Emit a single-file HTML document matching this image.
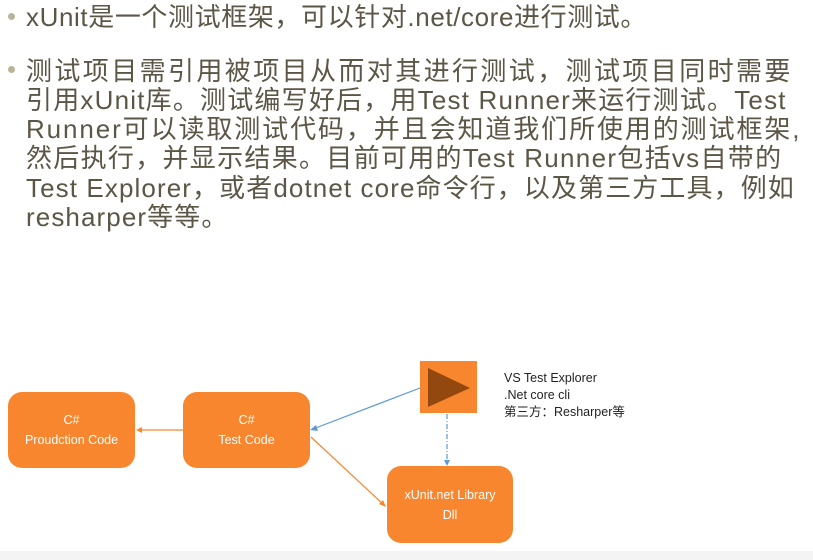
<!DOCTYPE html>
<html><head><meta charset="utf-8"><style>
body{margin:0;width:813px;height:560px;background:#fff;position:relative;overflow:hidden;font-family:"Liberation Sans","Noto Sans CJK SC",sans-serif}
.t{position:absolute;left:26px;white-space:nowrap;font-size:26px;color:#5c5646;line-height:29px}
.b{position:absolute;left:8px;width:7px;height:7px;border-radius:50%;background:#b9b39a}
.box{position:absolute;background:#f7862e;border-radius:14px;color:#fff;font-size:12.5px;text-align:center;display:flex;flex-direction:column;justify-content:center;line-height:20px}
.lab{position:absolute;left:504px;font-size:12.5px;color:#222;line-height:17px;font-family:"Liberation Sans","Noto Sans CJK SC",sans-serif}
</style></head><body>
<div class="b" style="top:13px"></div>
<div class="t" style="top:3px;letter-spacing:0.6px">xUnit是一个测试框架，可以针对.net/core进行测试。</div>
<div class="b" style="top:66px"></div>
<div class="t" style="top:57px;letter-spacing:2.4px">测试项目需引用被项目从而对其进行测试，测试项目同时需要</div>
<div class="t" style="top:86px;letter-spacing:1.2px">引用xUnit库。测试编写好后，用Test Runner来运行测试。Test</div>
<div class="t" style="top:115px;letter-spacing:1.9px">Runner可以读取测试代码，并且会知道我们所使用的测试框架,</div>
<div class="t" style="top:144px;letter-spacing:1.3px">然后执行，并显示结果。目前可用的Test Runner包括vs自带的</div>
<div class="t" style="top:174px;letter-spacing:1.1px">Test Explorer，或者dotnet core命令行，以及第三方工具，例如</div>
<div class="t" style="top:203px;letter-spacing:1.1px">resharper等等。</div>

<div class="box" style="left:8px;top:392px;width:127px;height:76px">C#<br>Proudction Code</div>
<div class="box" style="left:183px;top:392px;width:127px;height:76px">C#<br>Test Code</div>
<div class="box" style="left:387px;top:466px;width:126px;height:77px">xUnit.net Library<br>Dll</div>
<div style="position:absolute;left:420px;top:361px;width:57px;height:52px;background:#f7862e"></div>
<svg style="position:absolute;left:0;top:0" width="813" height="560">
<polygon points="428,368 470,388 428,407" fill="#93480f"/>
<line x1="183" y1="430" x2="138" y2="430" stroke="#f7862e" stroke-width="1.2"/>
<polygon points="136,430 142,427 142,433" fill="#f7862e"/>
<line x1="420" y1="388" x2="313" y2="429" stroke="#5b9bd5" stroke-width="1.2"/>
<polygon points="310,430 316,425 318,431" fill="#5b9bd5"/>
<line x1="311" y1="437" x2="384" y2="505" stroke="#f7862e" stroke-width="1.2"/>
<polygon points="386,507 379,504 383,500" fill="#f7862e"/>
<line x1="447" y1="414" x2="447" y2="462" stroke="#5b9bd5" stroke-width="1.2" stroke-dasharray="5,2,1,2"/>
<polygon points="447,466 444,460 450,460" fill="#5b9bd5"/>
</svg>
<div class="lab" style="top:370px">VS Test Explorer<br>.Net core cli<br>第三方：Resharper等</div>
<div style="position:absolute;left:0;top:551px;width:813px;height:9px;background:#f4f4f4"></div>
</body></html>
